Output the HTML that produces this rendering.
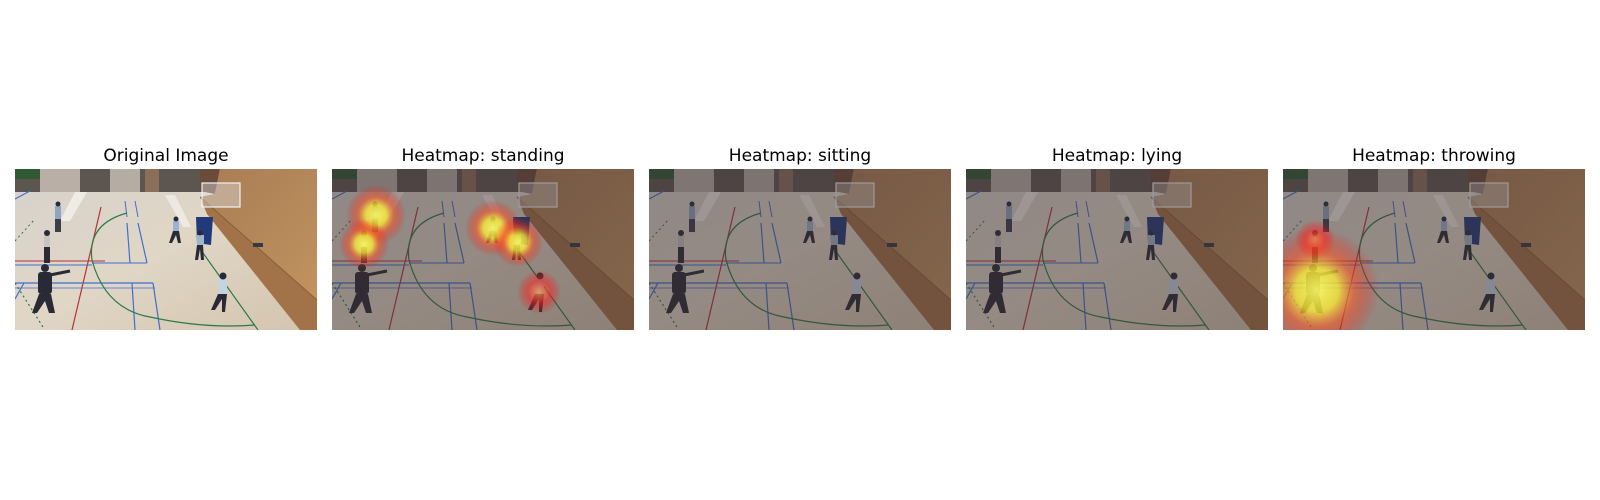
<!DOCTYPE html>
<html><head><meta charset="utf-8"><style>
html,body{margin:0;padding:0;background:#fff;}
svg{display:block;}
text{font-family:"DejaVu Sans","Liberation Sans",sans-serif;font-size:17px;fill:#000;}
</style></head><body>
<svg width="1600" height="500" viewBox="0 0 1600 500">
<defs>
<linearGradient id="floorG" x1="0" y1="0" x2="1" y2="1">
<stop offset="0" stop-color="#d6d2cc"/><stop offset="0.5" stop-color="#e0d6c6"/><stop offset="1" stop-color="#d3c4ad"/></linearGradient>
<linearGradient id="woodG" x1="0" y1="0" x2="1" y2="1">
<stop offset="0" stop-color="#a97c55"/><stop offset="1" stop-color="#c0935f"/></linearGradient>
<radialGradient id="heat">
<stop offset="0" stop-color="#ffff66" stop-opacity="0.9"/>
<stop offset="0.35" stop-color="#ffee33" stop-opacity="0.75"/>
<stop offset="0.6" stop-color="#ff5522" stop-opacity="0.55"/>
<stop offset="1" stop-color="#ff0000" stop-opacity="0"/></radialGradient>
<radialGradient id="heatR">
<stop offset="0" stop-color="#ffaa55" stop-opacity="0.7"/>
<stop offset="0.5" stop-color="#ff2222" stop-opacity="0.55"/>
<stop offset="1" stop-color="#ff0000" stop-opacity="0"/></radialGradient>
<clipPath id="pc"><rect x="0" y="0" width="302" height="161"/></clipPath>
<g id="scene" clip-path="url(#pc)">
<rect x="0" y="0" width="302" height="161" fill="url(#floorG)"/>
<polygon points="60,23 72,23 55,52 45,52" fill="#f4f1ec" opacity="0.8"/>
<polygon points="150,26 160,26 176,58 168,58" fill="#f4f1ec" opacity="0.7"/>
<rect x="0" y="0" width="195" height="23" fill="#5d5650"/>
<rect x="0" y="0" width="25" height="10" fill="#2f5a34"/>
<rect x="25" y="0" width="40" height="23" fill="#b9afa6"/>
<rect x="95" y="0" width="30" height="23" fill="#b5aca3"/>
<rect x="130" y="0" width="14" height="23" fill="#8a6f5a"/>
<polygon points="185,0 205,0 200,25 185,22" fill="#6b4c3a"/>
<polygon points="205,0 302,0 302,131 185,28 200,25" fill="url(#woodG)"/>
<polygon points="185,28 302,131 302,161 285,161 192,45" fill="#a27248"/>
<line x1="185" y1="28" x2="302" y2="131" stroke="#8a5e3a" stroke-width="1"/>
<line x1="86" y1="38" x2="57" y2="161" stroke="#b8303a" stroke-width="1.2"/>
<line x1="0" y1="92" x2="90" y2="92" stroke="#b8303a" stroke-width="1"/>
<line x1="112" y1="54" x2="115" y2="94" stroke="#3d6fd0" stroke-width="1.2"/>
<line x1="123" y1="54" x2="132" y2="94" stroke="#3d6fd0" stroke-width="1.2"/>
<line x1="110" y1="32" x2="112" y2="48" stroke="#3d6fd0" stroke-width="1"/>
<line x1="120" y1="32" x2="123" y2="48" stroke="#3d6fd0" stroke-width="1"/>
<line x1="77" y1="94" x2="132" y2="94" stroke="#3d6fd0" stroke-width="1"/>
<line x1="0" y1="96" x2="77" y2="96" stroke="#3d6fd0" stroke-width="1"/>
<line x1="0" y1="114" x2="138" y2="114" stroke="#3d6fd0" stroke-width="1.2"/>
<line x1="0" y1="119" x2="140" y2="119" stroke="#3d6fd0" stroke-width="0.8"/>
<line x1="117" y1="114" x2="120" y2="161" stroke="#3d6fd0" stroke-width="1.2"/>
<line x1="138" y1="114" x2="145" y2="161" stroke="#3d6fd0" stroke-width="1.2"/>
<line x1="9" y1="114" x2="0" y2="130" stroke="#3d6fd0" stroke-width="1.2"/>
<line x1="0" y1="30" x2="15" y2="22" stroke="#3d6fd0" stroke-width="1"/>
<path d="M112,44 Q72,55 77,91 Q90,140 135,148 Q190,160 240,156" fill="none" stroke="#2d7a45" stroke-width="1.2"/>
<line x1="188" y1="84" x2="243" y2="161" stroke="#2d7a45" stroke-width="1.2"/>
<line x1="0" y1="114" x2="28" y2="158" stroke="#2d7a45" stroke-width="1.2" stroke-dasharray="2,3"/>
<line x1="0" y1="72" x2="20" y2="50" stroke="#2d7a45" stroke-width="1" stroke-dasharray="2,3"/>
<rect x="187" y="14" width="38" height="24" fill="#dfe6ea" fill-opacity="0.4" stroke="#eef2f4" stroke-width="1.2"/>
<polygon points="181,48 198,48 196,76 182,74" fill="#223a7a"/>
<rect x="238" y="74" width="10" height="4" fill="#333a48"/>
<g fill="#2a2a36">
<rect x="40" y="37" width="6" height="13" fill="#8fa4c0"/><circle cx="43" cy="35" r="2.5"/><rect x="40" y="50" width="6" height="13" fill="#3b3f4b"/>
<rect x="29" y="66" width="6" height="12" fill="#c8c4c0"/><circle cx="32" cy="64" r="3"/><rect x="29" y="78" width="6" height="16"/>
<circle cx="30" cy="99" r="4"/><rect x="23" y="103" width="14" height="22" rx="3"/><polygon points="24,125 36,125 40,144 34,144 30,132 22,144 17,144" /><line x1="35" y1="106" x2="55" y2="102" stroke="#2a2a36" stroke-width="3"/>
<rect x="158" y="52" width="6" height="10" fill="#9ab2d6"/><circle cx="161" cy="50" r="2.5"/><polygon points="158,62 164,62 166,74 163,74 161,66 157,74 154,74"/>
<rect x="182" y="66" width="7" height="10" fill="#a2b4cc"/><circle cx="185" cy="64" r="2.5"/><polygon points="182,76 188,76 189,91 186,91 185,80 183,91 180,91"/>
<rect x="203" y="109" width="9" height="16" fill="#c5d2e2"/><circle cx="208" cy="107" r="3.5"/><polygon points="203,125 212,125 210,143 207,143 207,130 200,141 196,141"/>
</g>
</g>
<g id="dim"><rect x="0" y="0" width="302" height="161" fill="#3a2e33" fill-opacity="0.45"/></g>
</defs>

<g transform="translate(15,169)">
<use href="#scene"/>
</g>
<text x="166" y="161" text-anchor="middle">Original Image</text>

<g transform="translate(332,169)">
<use href="#scene"/><use href="#dim"/>
<g clip-path="url(#pc)">
<circle cx="44" cy="46" r="30" fill="url(#heat)"/>
<circle cx="32" cy="75" r="25" fill="url(#heat)"/>
<circle cx="161" cy="59" r="28" fill="url(#heat)"/>
<circle cx="186" cy="73" r="25" fill="url(#heat)"/>
<circle cx="207" cy="123" r="22" fill="url(#heatR)"/>
</g>
</g>
<text x="483" y="161" text-anchor="middle">Heatmap: standing</text>

<g transform="translate(649,169)">
<use href="#scene"/><use href="#dim"/>
</g>
<text x="800" y="161" text-anchor="middle">Heatmap: sitting</text>

<g transform="translate(966,169)">
<use href="#scene"/><use href="#dim"/>
</g>
<text x="1117" y="161" text-anchor="middle">Heatmap: lying</text>

<g transform="translate(1283,169)">
<use href="#scene"/><use href="#dim"/>
<g clip-path="url(#pc)">
<circle cx="32" cy="71" r="20" fill="url(#heatR)"/>
<circle cx="34" cy="121" r="62" fill="url(#heat)"/>
</g>
</g>
<text x="1434" y="161" text-anchor="middle">Heatmap: throwing</text>
</svg>
</body></html>
